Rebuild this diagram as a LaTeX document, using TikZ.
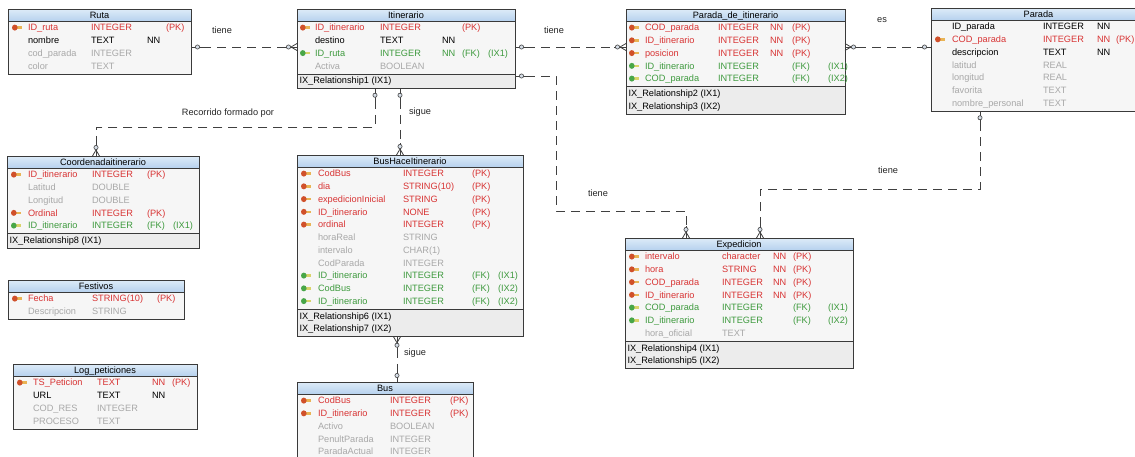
\documentclass[tikz,border=0pt]{standalone}
\usepackage{fontspec}
\setmainfont{Liberation Sans}
\usetikzlibrary{calc}
\definecolor{hdrtop}{HTML}{DDEBF8}
\definecolor{hdrbot}{HTML}{B7D2EE}
\definecolor{bodyc}{HTML}{F6F6F6}
\definecolor{ixc}{HTML}{ECECEC}
\definecolor{bord}{HTML}{3A3A3A}
\definecolor{redt}{HTML}{D83434}
\definecolor{greent}{HTML}{3E9A3E}
\definecolor{grayt}{HTML}{A8A8A8}
\definecolor{linec}{HTML}{404040}
\definecolor{circfill}{HTML}{D6DEE8}
\definecolor{pkc}{HTML}{D0502A}
\definecolor{pktail}{HTML}{E9B455}
\definecolor{fkc}{HTML}{48A648}
\definecolor{fktail}{HTML}{D8D46A}
\newcommand\erfont{\fontsize{9.2}{11}\selectfont}
\tikzset{
  txt/.style={font=\erfont, inner sep=0pt, outer sep=0pt},
  tblbox/.style={draw=bord, line width=0.8pt, inner sep=0pt, outer sep=0pt},
  conn/.style={draw=linec, line width=0.8pt},
  dconn/.style={conn, dash pattern=on 9pt off 6pt},
  circ/.style={draw=linec, fill=circfill, line width=0.6pt},
  redrow/.style={text=redt}, greenrow/.style={text=greent},
  grayrow/.style={text=grayt}, blackrow/.style={text=black},
  lbl/.style={font=\erfont, text=black!85, inner sep=0pt},
  endone/.pic={\draw[conn] (0,0) -- (11,0); \draw[circ] (6.5,0) circle (2.1pt);},
  endmany/.pic={\draw[conn] (0,0) -- (12,0); \draw[conn] (0,-3.5) -- (6,0) -- (0,3.5); \draw[circ] (8.5,0) circle (2.1pt);}
}
% #1 name, #2 x, #3 y, #4 width, #5 rows, #6 index rows, #7 title
\newcommand\ertable[7]{%
  \pgfmathsetmacro\erHB{#5*12.75+2}%
  \pgfmathsetmacro\erHI{(#6>0)*(#6*12.75+2)}%
  \pgfmathsetmacro\erHT{12+\erHB+\erHI}%
  \pgfmathsetmacro\erBase{#3+12}%
  \pgfmathsetmacro\erIXBase{#3+12+\erHB}%
  \def\erLeft{#2}%
  \fill[bodyc] (#2,#3) rectangle ++(#4,\erHT);
  \shade[top color=hdrtop,bottom color=hdrbot] (#2,#3) rectangle ++(#4,12);
  \ifnum#6>0
    \fill[ixc] (#2,\erIXBase) rectangle ++(#4,\erHI);
    \draw[bord,line width=0.6pt] (#2,\erIXBase) -- ++(#4,0);
  \fi
  \draw[bord,line width=0.6pt] (#2,#3+12) -- ++(#4,0);
  \node[tblbox,minimum width=#4pt,minimum height=\erHT pt,anchor=north west] (#1) at (#2,#3) {};
  \node[txt,anchor=base] (#1-title) at (#2+#4/2,#3+9.3) {#7};
}
\newcommand\setcols[6]{\def\cI{#1}\def\cN{#2}\def\cT{#3}\def\cNN{#4}\def\cK{#5}\def\cX{#6}}
\newcommand\pkicon[2]{\fill[pktail] (#1+2,#2-1.3) rectangle (#1+9.5,#2+1.3); \fill[pkc] (#1+2.8,#2) ellipse (2.8pt and 3pt);}
\newcommand\fkicon[2]{\fill[fktail] (#1+2,#2-1.3) rectangle (#1+9.5,#2+1.3); \fill[fkc] (#1+2.8,#2) ellipse (2.8pt and 3pt);}
% #1 tbl, #2 k, #3 style, #4 icon p/f/n, #5 name, #6 type, #7 nn, #8 key, #9 ix
\newcommand\erow[9]{%
  \pgfmathsetmacro\erC{\erBase+6.6+(#2-1)*12.75}%
  \pgfmathsetmacro\erY{\erC+3.3}%
  \ifx p#4\pkicon{\cI}{\erC}\fi
  \ifx f#4\fkicon{\cI}{\erC}\fi
  \node[txt,#3,anchor=base west] (#1-#2n) at (\cN,\erY) {#5};
  \node[txt,#3,anchor=base west] (#1-#2t) at (\cT,\erY) {#6};
  \if\relax\detokenize{#7}\relax\else\node[txt,#3,anchor=base west] (#1-#2nn) at (\cNN,\erY) {#7};\fi
  \if\relax\detokenize{#8}\relax\else\node[txt,#3,anchor=base west] (#1-#2k) at (\cK,\erY) {#8};\fi
  \if\relax\detokenize{#9}\relax\else\node[txt,#3,anchor=base west] (#1-#2x) at (\cX,\erY) {#9};\fi
}
\newcommand\erix[3]{%
  \pgfmathsetmacro\erY{\erIXBase+6.6+(#2-1)*12.75+3.3}%
  \node[txt,anchor=base west] (#1-ix#2) at (\erLeft+2.5,\erY) {#3};
}
\begin{document}
\begin{tikzpicture}[x=1pt,y=-1pt]
\useasboundingbox (0,0) rectangle (1135,456);
\fill[white] (0,0) rectangle (1135,456);

% ---------------- Ruta
\ertable{ruta}{8}{9}{183}{4}{0}{Ruta}
\setcols{12}{28}{91}{147}{166}{0}
\erow{ruta}{1}{redrow}{p}{ID\_ruta}{INTEGER}{}{(PK)}{}
\erow{ruta}{2}{blackrow}{n}{nombre}{TEXT}{NN}{}{}
\erow{ruta}{3}{grayrow}{n}{cod\_parada}{INTEGER}{}{}{}
\erow{ruta}{4}{grayrow}{n}{color}{TEXT}{}{}{}

% ---------------- Itinerario
\ertable{itin}{297}{9}{218}{4}{1}{Itinerario}
\setcols{300}{315}{380}{442}{462}{488}
\erow{itin}{1}{redrow}{p}{ID\_itinerario}{INTEGER}{}{(PK)}{}
\erow{itin}{2}{blackrow}{n}{destino}{TEXT}{NN}{}{}
\erow{itin}{3}{greenrow}{f}{ID\_ruta}{INTEGER}{NN}{(FK)}{(IX1)}
\erow{itin}{4}{grayrow}{n}{Activa}{BOOLEAN}{}{}{}
\erix{itin}{1}{IX\_Relationship1 (IX1)}

% ---------------- Parada_de_itinerario
\ertable{pdi}{626}{9}{219}{5}{2}{Parada\_de\_itinerario}
\setcols{629}{645}{718}{770}{792}{828}
\erow{pdi}{1}{redrow}{p}{COD\_parada}{INTEGER}{NN}{(PK)}{}
\erow{pdi}{2}{redrow}{p}{ID\_itinerario}{INTEGER}{NN}{(PK)}{}
\erow{pdi}{3}{redrow}{p}{posicion}{INTEGER}{NN}{(PK)}{}
\erow{pdi}{4}{greenrow}{f}{ID\_itinerario}{INTEGER}{}{(FK)}{(IX1)}
\erow{pdi}{5}{greenrow}{f}{COD\_parada}{INTEGER}{}{(FK)}{(IX2)}
\erix{pdi}{1}{IX\_Relationship2 (IX1)}
\erix{pdi}{2}{IX\_Relationship3 (IX2)}

% ---------------- Parada
\ertable{parada}{931}{8}{215}{7}{0}{Parada}
\setcols{935}{952}{1043}{1097}{1116}{0}
\erow{parada}{1}{blackrow}{n}{ID\_parada}{INTEGER}{NN}{}{}
\erow{parada}{2}{redrow}{p}{COD\_parada}{INTEGER}{NN}{(PK)}{}
\erow{parada}{3}{blackrow}{n}{descripcion}{TEXT}{NN}{}{}
\erow{parada}{4}{grayrow}{n}{latitud}{REAL}{}{}{}
\erow{parada}{5}{grayrow}{n}{longitud}{REAL}{}{}{}
\erow{parada}{6}{grayrow}{n}{favorita}{TEXT}{}{}{}
\erow{parada}{7}{grayrow}{n}{nombre\_personal}{TEXT}{}{}{}

% ---------------- Coordenadaitinerario
\ertable{coord}{7}{156}{192}{5}{1}{Coordenadaitinerario}
\setcols{11}{28}{92}{0}{147}{173}
\erow{coord}{1}{redrow}{p}{ID\_itinerario}{INTEGER}{}{(PK)}{}
\erow{coord}{2}{grayrow}{n}{Latitud}{DOUBLE}{}{}{}
\erow{coord}{3}{grayrow}{n}{Longitud}{DOUBLE}{}{}{}
\erow{coord}{4}{redrow}{p}{Ordinal}{INTEGER}{}{(PK)}{}
\erow{coord}{5}{greenrow}{f}{ID\_itinerario}{INTEGER}{}{(FK)}{(IX1)}
\erix{coord}{1}{IX\_Relationship8 (IX1)}

% ---------------- BusHaceItinerario
\ertable{bhi}{297}{155}{226}{11}{2}{BusHaceItinerario}
\setcols{301}{318}{403}{0}{472}{498}
\erow{bhi}{1}{redrow}{p}{CodBus}{INTEGER}{}{(PK)}{}
\erow{bhi}{2}{redrow}{p}{dia}{STRING(10)}{}{(PK)}{}
\erow{bhi}{3}{redrow}{p}{expedicionInicial}{STRING}{}{(PK)}{}
\erow{bhi}{4}{redrow}{p}{ID\_itinerario}{NONE}{}{(PK)}{}
\erow{bhi}{5}{redrow}{p}{ordinal}{INTEGER}{}{(PK)}{}
\erow{bhi}{6}{grayrow}{n}{horaReal}{STRING}{}{}{}
\erow{bhi}{7}{grayrow}{n}{intervalo}{CHAR(1)}{}{}{}
\erow{bhi}{8}{grayrow}{n}{CodParada}{INTEGER}{}{}{}
\erow{bhi}{9}{greenrow}{f}{ID\_itinerario}{INTEGER}{}{(FK)}{(IX1)}
\erow{bhi}{10}{greenrow}{f}{CodBus}{INTEGER}{}{(FK)}{(IX2)}
\erow{bhi}{11}{greenrow}{f}{ID\_itinerario}{INTEGER}{}{(FK)}{(IX2)}
\erix{bhi}{1}{IX\_Relationship6 (IX1)}
\erix{bhi}{2}{IX\_Relationship7 (IX2)}

% ---------------- Bus
\ertable{bus}{297}{382}{176}{5}{0}{Bus}
\setcols{301}{318}{390}{0}{450}{0}
\erow{bus}{1}{redrow}{p}{CodBus}{INTEGER}{}{(PK)}{}
\erow{bus}{2}{redrow}{p}{ID\_itinerario}{INTEGER}{}{(PK)}{}
\erow{bus}{3}{grayrow}{n}{Activo}{BOOLEAN}{}{}{}
\erow{bus}{4}{grayrow}{n}{PenultParada}{INTEGER}{}{}{}
\erow{bus}{5}{grayrow}{n}{ParadaActual}{INTEGER}{}{}{}

% ---------------- Festivos
\ertable{fest}{8}{280}{176}{2}{0}{Festivos}
\setcols{12}{28}{92}{0}{157}{0}
\erow{fest}{1}{redrow}{p}{Fecha}{STRING(10)}{}{(PK)}{}
\erow{fest}{2}{grayrow}{n}{Descripcion}{STRING}{}{}{}

% ---------------- Log_peticiones
\ertable{log}{13}{364}{184}{4}{0}{Log\_peticiones}
\setcols{17}{33}{97}{152}{172}{0}
\erow{log}{1}{redrow}{p}{TS\_Peticion}{TEXT}{NN}{(PK)}{}
\erow{log}{2}{blackrow}{n}{URL}{TEXT}{NN}{}{}
\erow{log}{3}{grayrow}{n}{COD\_RES}{INTEGER}{}{}{}
\erow{log}{4}{grayrow}{n}{PROCESO}{TEXT}{}{}{}

% ---------------- Expedicion
\ertable{exp}{625}{238}{228}{7}{2}{Expedicion}
\setcols{629}{645}{722}{773}{793}{828}
\erow{exp}{1}{redrow}{p}{intervalo}{character}{NN}{(PK)}{}
\erow{exp}{2}{redrow}{p}{hora}{STRING}{NN}{(PK)}{}
\erow{exp}{3}{redrow}{p}{COD\_parada}{INTEGER}{NN}{(PK)}{}
\erow{exp}{4}{redrow}{p}{ID\_itinerario}{INTEGER}{NN}{(PK)}{}
\erow{exp}{5}{greenrow}{f}{COD\_parada}{INTEGER}{}{(FK)}{(IX1)}
\erow{exp}{6}{greenrow}{f}{ID\_itinerario}{INTEGER}{}{(FK)}{(IX2)}
\erow{exp}{7}{grayrow}{n}{hora\_oficial}{TEXT}{}{}{}
\erix{exp}{1}{IX\_Relationship4 (IX1)}
\erix{exp}{2}{IX\_Relationship5 (IX2)}

% ---------------- helper coordinates
\coordinate (h47) at (0,47);
\coordinate (h76) at (0,76);
\coordinate (h127) at (0,127);
\coordinate (h189) at (0,189);
\coordinate (h211) at (0,211);
\coordinate (v96) at (96,0);
\coordinate (v375) at (375,0);
\coordinate (v397) at (397,0);
\coordinate (v400) at (400,0);
\coordinate (v556) at (556,0);
\coordinate (v686) at (686,0);
\coordinate (v760) at (760,0);
\coordinate (v980) at (980,0);

% 1 Ruta - Itinerario
\coordinate (c1a) at (ruta.east |- h47);
\coordinate (c1b) at (itin.west |- h47);
\pic at (c1a) {endone};
\pic[rotate=180] at (c1b) {endmany};
\draw[dconn] ($(c1a)+(11,0)$) -- ($(c1b)+(-12,0)$);
% 2 Itinerario - Parada_de_itinerario
\coordinate (c2a) at (itin.east |- h47);
\coordinate (c2b) at (pdi.west |- h47);
\pic at (c2a) {endone};
\pic[rotate=180] at (c2b) {endmany};
\draw[dconn] ($(c2a)+(11,0)$) -- ($(c2b)+(-12,0)$);
% 3 Parada_de_itinerario - Parada
\coordinate (c3a) at (pdi.east |- h47);
\coordinate (c3b) at (parada.west |- h47);
\pic at (c3a) {endmany};
\pic[rotate=180] at (c3b) {endone};
\draw[dconn] ($(c3a)+(12,0)$) -- ($(c3b)+(-11,0)$);
% 4 Itinerario - Coordenadaitinerario
\coordinate (c4a) at (v375 |- itin.south);
\coordinate (c4b) at (v96 |- coord.north);
\pic[rotate=-90] at (c4a) {endone};
\pic[rotate=90] at (c4b) {endmany};
\draw[dconn] ($(c4a)+(0,11)$) -- (c4a |- h127) -- (c4b |- h127) -- ($(c4b)+(0,-12)$);
% 5 Itinerario - BusHaceItinerario
\coordinate (c5a) at (v400 |- itin.south);
\coordinate (c5b) at (v400 |- bhi.north);
\pic[rotate=-90] at (c5a) {endone};
\pic[rotate=90] at (c5b) {endmany};
\draw[dconn] ($(c5a)+(0,11)$) -- ($(c5b)+(0,-12)$);
% 6 BusHaceItinerario - Bus
\coordinate (c6a) at (v397 |- bhi.south);
\coordinate (c6b) at (v397 |- bus.north);
\pic[rotate=-90] at (c6a) {endmany};
\pic[rotate=90] at (c6b) {endone};
\draw[dconn] ($(c6a)+(0,12)$) -- ($(c6b)+(0,-11)$);
% 7 Itinerario - Expedicion
\coordinate (c7a) at (itin.east |- h76);
\coordinate (c7b) at (v686 |- exp.north);
\pic at (c7a) {endone};
\pic[rotate=90] at (c7b) {endmany};
\draw[dconn] ($(c7a)+(11,0)$) -- (v556 |- h76) -- (v556 |- h211) -- (c7b |- h211) -- ($(c7b)+(0,-12)$);
% 8 Parada - Expedicion
\coordinate (c8a) at (v980 |- parada.south);
\coordinate (c8b) at (v760 |- exp.north);
\pic[rotate=-90] at (c8a) {endone};
\pic[rotate=90] at (c8b) {endmany};
\draw[dconn] ($(c8a)+(0,11)$) -- (c8a |- h189) -- (c8b |- h189) -- ($(c8b)+(0,-12)$);

% labels
\node[lbl] (l1) at (222,30) {tiene};
\node[lbl] (l2) at (554,30) {tiene};
\node[lbl] (l3) at (882,20) {es};
\node[lbl] (l4) at (228,113) {Recorrido formado por};
\node[lbl] (l5) at (420,112) {sigue};
\node[lbl] (l6) at (415,353) {sigue};
\node[lbl] (l7) at (598,193) {tiene};
\node[lbl] (l8) at (888,170) {tiene};
\end{tikzpicture}
\end{document}
